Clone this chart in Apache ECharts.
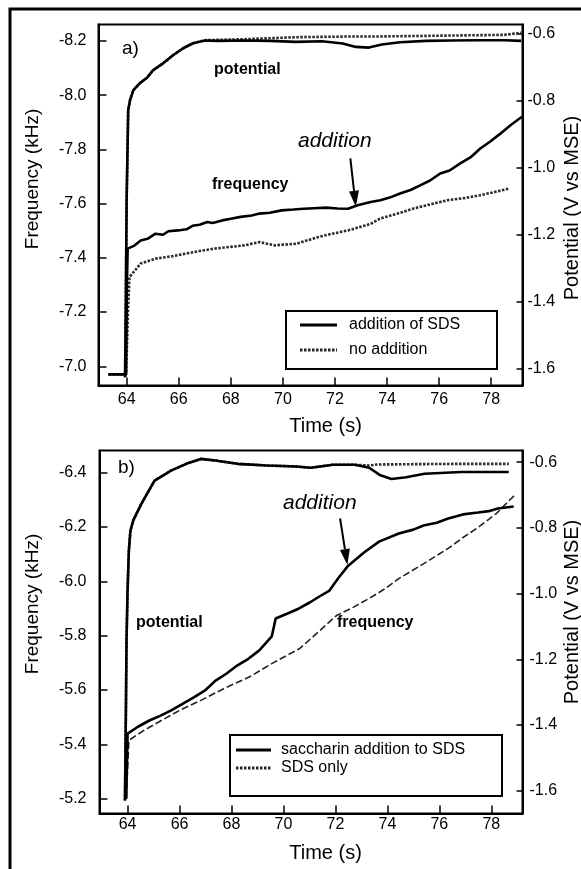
<!DOCTYPE html>
<html><head><meta charset="utf-8">
<script src="https://cdn.jsdelivr.net/npm/echarts@6/dist/echarts.min.js"></script>
<style>html,body{margin:0;padding:0;background:#fff}#c{width:581px;height:869px}</style>
</head><body><div id="c"></div>
<script>
// ---------- tick labels ----------
const timeTicks = [64, 66, 68, 70, 72, 74, 76, 78];
const freqTicksA = [-8.2, -8.0, -7.8, -7.6, -7.4, -7.2, -7.0];
const freqTicksB = [-6.4, -6.2, -6.0, -5.8, -5.6, -5.4, -5.2];
const potTicks = [-1.6, -1.4, -1.2, -1.0, -0.8, -0.6];

// ---------- panel a) ----------
const timeFreqAddA = [63.30, 63.98, 64.01, 64.04, 64.30, 64.54, 64.80, 65.11, 65.40, 65.60, 65.97, 66.30, 66.53, 66.80, 67.10, 67.30, 67.67, 68.00, 68.38, 68.80, 69.10, 69.50, 69.95, 70.40, 70.80, 71.20, 71.66, 72.10, 72.50, 72.87, 73.37, 73.74, 74.10, 74.50, 74.90, 75.27, 75.65, 76.04, 76.40, 76.81, 77.20, 77.58, 77.95, 78.35, 78.75, 79.18];
const freqAddA = [-6.97, -6.97, -7.30, -7.434, -7.445, -7.464, -7.470, -7.489, -7.485, -7.498, -7.501, -7.505, -7.518, -7.522, -7.532, -7.528, -7.538, -7.544, -7.551, -7.556, -7.563, -7.566, -7.575, -7.578, -7.581, -7.583, -7.585, -7.582, -7.581, -7.594, -7.606, -7.612, -7.622, -7.637, -7.650, -7.667, -7.685, -7.711, -7.722, -7.748, -7.770, -7.803, -7.828, -7.858, -7.890, -7.920];

const timeFreqNoA = [63.30, 63.98, 64.05, 64.11, 64.54, 65.11, 65.70, 66.24, 66.80, 67.39, 67.95, 68.53, 69.10, 69.67, 70.10, 70.52, 71.37, 71.90, 72.50, 73.37, 73.74, 74.40, 75.02, 75.70, 76.30, 76.95, 77.58, 78.10, 78.67];
const freqNoA = [-6.97, -6.97, -7.20, -7.329, -7.379, -7.397, -7.405, -7.415, -7.425, -7.434, -7.440, -7.446, -7.458, -7.446, -7.449, -7.452, -7.477, -7.489, -7.501, -7.525, -7.545, -7.563, -7.582, -7.598, -7.612, -7.620, -7.631, -7.642, -7.655];

const timePotAddA = [63.94, 63.97, 64.00, 64.06, 64.13, 64.26, 64.51, 64.77, 65.01, 65.40, 65.78, 66.17, 66.55, 67.01, 67.50, 68.50, 69.50, 70.50, 71.50, 72.30, 72.80, 73.30, 73.80, 74.50, 75.50, 76.50, 77.50, 78.50, 79.15];
const potAddA = [-1.626, -1.396, -1.098, -0.829, -0.799, -0.769, -0.748, -0.733, -0.710, -0.689, -0.665, -0.644, -0.629, -0.621, -0.622, -0.621, -0.622, -0.625, -0.623, -0.630, -0.640, -0.642, -0.633, -0.626, -0.622, -0.621, -0.620, -0.620, -0.622];

const timePotNoA = [63.94, 63.97, 64.00, 64.06, 64.13, 64.26, 64.51, 64.77, 65.01, 65.40, 65.78, 66.17, 66.55, 67.01, 67.50, 68.50, 69.50, 70.50, 71.50, 72.50, 73.50, 74.50, 75.50, 76.50, 77.50, 78.50, 79.15];
const potNoA = [-1.626, -1.396, -1.098, -0.829, -0.799, -0.769, -0.748, -0.733, -0.710, -0.689, -0.665, -0.644, -0.629, -0.620, -0.619, -0.617, -0.614, -0.611, -0.610, -0.609, -0.609, -0.608, -0.607, -0.606, -0.605, -0.604, -0.598];

// ---------- panel b) ----------
const timeFreqAddB = [63.95, 64.00, 64.40, 64.84, 65.25, 65.68, 66.10, 66.55, 67.00, 67.39, 67.80, 68.23, 68.65, 69.07, 69.55, 69.70, 70.25, 70.60, 71.01, 71.40, 71.77, 72.10, 72.46, 73.10, 73.68, 74.44, 75.00, 75.39, 75.90, 76.34, 76.91, 77.49, 77.90, 78.25, 78.86];
const freqAddB = [-5.20, -5.440, -5.465, -5.488, -5.505, -5.525, -5.548, -5.573, -5.600, -5.635, -5.660, -5.691, -5.715, -5.746, -5.797, -5.863, -5.885, -5.900, -5.922, -5.945, -5.966, -6.010, -6.054, -6.106, -6.146, -6.176, -6.190, -6.205, -6.215, -6.231, -6.246, -6.253, -6.258, -6.268, -6.275];

const timeFreqNoB = [63.95, 64.05, 64.60, 65.30, 66.00, 66.82, 67.70, 68.72, 69.60, 70.63, 71.30, 72.04, 72.70, 73.30, 73.90, 74.44, 75.40, 76.34, 76.90, 77.49, 78.20, 78.88];
const freqNoB = [-5.20, -5.415, -5.450, -5.488, -5.525, -5.562, -5.605, -5.650, -5.700, -5.753, -5.810, -5.874, -5.905, -5.937, -5.972, -6.010, -6.065, -6.121, -6.160, -6.198, -6.250, -6.315];

const timePotAddB = [63.90, 63.94, 63.96, 64.00, 64.05, 64.11, 64.22, 64.53, 65.04, 65.69, 66.26, 66.82, 67.38, 68.23, 69.36, 70.49, 71.05, 71.90, 72.75, 73.30, 73.73, 74.16, 74.72, 75.43, 76.84, 78.67];
const potAddB = [-1.630, -1.326, -1.143, -0.991, -0.869, -0.808, -0.777, -0.727, -0.656, -0.625, -0.605, -0.590, -0.595, -0.605, -0.610, -0.613, -0.617, -0.608, -0.608, -0.617, -0.640, -0.651, -0.646, -0.635, -0.630, -0.630];

const timePotNoB = [63.90, 63.94, 63.96, 64.00, 64.05, 64.11, 64.22, 64.53, 65.04, 65.69, 66.26, 66.82, 67.38, 68.23, 69.36, 70.49, 71.05, 71.90, 72.75, 73.30, 73.60, 75.00, 77.00, 78.67];
const potNoB = [-1.630, -1.326, -1.143, -0.991, -0.869, -0.808, -0.777, -0.727, -0.656, -0.625, -0.605, -0.590, -0.595, -0.605, -0.610, -0.613, -0.617, -0.608, -0.608, -0.610, -0.607, -0.606, -0.605, -0.605];

// addition markers (time, frequency) : arrow tail and tip
const arrowA = { tail: [72.59, -7.767], tip: [72.80, -7.588] };
const arrowB = { tail: [72.18, -6.231], tip: [72.46, -6.060] };

// ---------- chart ----------
const FONT = 'Liberation Sans, Arial, Helvetica, sans-serif';
const zip = (t, v) => t.map((x, i) => [x, v[i]]);
const chart = echarts.init(document.getElementById('c'), null, { renderer: 'canvas' });

const lbl = (extra) => Object.assign({ color: '#000', fontFamily: FONT, fontSize: 16 }, extra);
const fmt1 = v => v.toFixed(1);

function xAx(grid, margin) {
  return {
    type: 'value', gridIndex: grid, min: 62.92, max: 79.2,
    axisLine: { show: true, onZero: false, lineStyle: { color: '#000', width: 2 } },
    axisTick: { show: true, inside: true, length: 8, customValues: timeTicks, lineStyle: { color: '#000', width: 1.5 } },
    axisLabel: lbl({ customValues: timeTicks, margin: margin, formatter: v => String(v) }),
    splitLine: { show: false }
  };
}
function yFreq(grid, min, max, ticks, margin) {
  return {
    type: 'value', gridIndex: grid, position: 'left', inverse: true, min: min, max: max,
    axisLine: { show: true, onZero: false, lineStyle: { color: '#000', width: 2 } },
    axisTick: { show: true, inside: true, length: 8, customValues: ticks, lineStyle: { color: '#000', width: 1.5 } },
    axisLabel: lbl({ customValues: ticks, margin: margin, formatter: fmt1 }),
    splitLine: { show: false }
  };
}
function yPot(grid, min, max, margin) {
  return {
    type: 'value', gridIndex: grid, position: 'right', min: min, max: max,
    axisLine: { show: true, onZero: false, lineStyle: { color: '#000', width: 2 } },
    axisTick: { show: true, inside: true, length: 6, customValues: potTicks, lineStyle: { color: '#000', width: 1.5 } },
    axisLabel: lbl({ customValues: potTicks, margin: margin, formatter: fmt1 }),
    splitLine: { show: false }
  };
}
const solid = { color: '#000', width: 2.6, type: 'solid' };
const hatched = { color: '#2a2a2a', width: 2.6, type: [2.5, 1.5] };
const thinDash = { color: '#222', width: 1.6, type: [7, 3] };
function ser(name, x, y, data, style, z) {
  return { type: 'line', name: name, xAxisIndex: x, yAxisIndex: y, data: data, showSymbol: false, symbol: 'none',
    lineStyle: style, z: z, animation: false, silent: true };
}

chart.setOption({
  animation: false,
  backgroundColor: '#fff',
  grid: [
    { left: 98.5, top: 24.5, right: 58.5, height: 361, show: true, borderColor: '#000', borderWidth: 2, backgroundColor: 'transparent' },
    { left: 99.5, top: 450.5, right: 58.5, height: 363, show: true, borderColor: '#000', borderWidth: 2, backgroundColor: 'transparent' }
  ],
  xAxis: [xAx(0, 6), xAx(1, 3)],
  yAxis: [
    yFreq(0, -8.2605, -6.929, freqTicksA, 12),
    yPot(0, -1.6507, -0.5731, 5),
    yFreq(1, -6.481, -5.146, freqTicksB, 13),
    yPot(1, -1.6694, -0.5644, 7)
  ],
  series: [
    ser('no addition (potential)', 0, 1, zip(timePotNoA, potNoA), hatched, 2),
    ser('addition of SDS (potential)', 0, 1, zip(timePotAddA, potAddA), solid, 3),
    ser('no addition', 0, 0, zip(timeFreqNoA, freqNoA), hatched, 2),
    ser('addition of SDS', 0, 0, zip(timeFreqAddA, freqAddA), solid, 3),
    ser('SDS only (potential)', 1, 3, zip(timePotNoB, potNoB), hatched, 2),
    ser('saccharin addition to SDS (potential)', 1, 3, zip(timePotAddB, potAddB), solid, 3),
    ser('SDS only', 1, 2, zip(timeFreqNoB, freqNoB), thinDash, 2),
    ser('saccharin addition to SDS', 1, 2, zip(timeFreqAddB, freqAddB), solid, 3)
  ]
});

function txt(x, y, s, font, extra) {
  return Object.assign({ type: 'text', x: x, y: y, z: 10, silent: true,
    style: { text: s, font: font, fill: '#000', align: 'left', verticalAlign: 'middle' } }, extra || {});
}
function rtxt(x, y, s, font) {
  return { type: 'text', x: x, y: y, rotation: Math.PI / 2, z: 10, silent: true,
    style: { text: s, font: font, fill: '#000', align: 'center', verticalAlign: 'middle' } };
}
function arrowEls(a, xi, yi) {
  const p0 = chart.convertToPixel({ xAxisIndex: xi, yAxisIndex: yi }, a.tail);
  const p1 = chart.convertToPixel({ xAxisIndex: xi, yAxisIndex: yi }, a.tip);
  const dx = p1[0] - p0[0], dy = p1[1] - p0[1], L = Math.hypot(dx, dy);
  const ux = dx / L, uy = dy / L, hl = 16, hw = 5;
  const bx = p1[0] - ux * hl, by = p1[1] - uy * hl;
  return [
    { type: 'line', z: 10, silent: true, shape: { x1: p0[0], y1: p0[1], x2: bx, y2: by }, style: { stroke: '#000', lineWidth: 2 } },
    { type: 'polygon', z: 10, silent: true, shape: { points: [[p1[0], p1[1]], [bx - uy * hw, by + ux * hw], [bx + uy * hw, by - ux * hw]] }, style: { fill: '#000' } }
  ];
}
function legendBox(x, y, w, h, rows, textX, lineX1, lineX2) {
  const els = [{ type: 'rect', z: 10, silent: true, shape: { x: x, y: y, width: w, height: h }, style: { fill: '#fff', stroke: '#000', lineWidth: 2 } }];
  rows.forEach(r => {
    els.push({ type: 'line', z: 11, silent: true, shape: { x1: lineX1, y1: r.y, x2: lineX2, y2: r.y }, style: Object.assign({ stroke: '#000', lineWidth: 3 }, r.dash ? { lineDash: r.dash, stroke: '#222' } : {}) });
    els.push(txt(textX, r.y, r.label, '16px ' + FONT, { z: 11 }));
  });
  return els;
}

const B = 'bold 16px ' + FONT, I = 'italic 21px ' + FONT, T = '20px ' + FONT;
const graphics = [
  { type: 'rect', z: 20, silent: true, shape: { x: 10, y: 9, width: 640, height: 900 }, style: { fill: 'none', stroke: '#000', lineWidth: 3 } },
  txt(122, 49, 'a)', '19px ' + FONT),
  txt(214, 70, 'potential', B),
  txt(212, 185, 'frequency', B),
  txt(298, 141, 'addition', I),
  txt(118, 468, 'b)', '19px ' + FONT),
  txt(136, 623, 'potential', B),
  txt(337, 623, 'frequency', B),
  txt(283, 503, 'addition', I),
  rtxt(33, 179, 'Frequency (kHz)', '19px ' + FONT),
  rtxt(572, 208, 'Potential (V vs MSE)', T),
  txt(325.5, 426.5, 'Time (s)', T, { style: { text: 'Time (s)', font: T, fill: '#000', align: 'center', verticalAlign: 'middle' } }),
  rtxt(33, 604, 'Frequency (kHz)', '19px ' + FONT),
  rtxt(572, 612, 'Potential (V vs MSE)', T),
  txt(325.5, 853, 'Time (s)', T, { style: { text: 'Time (s)', font: T, fill: '#000', align: 'center', verticalAlign: 'middle' } })
]
  .concat(arrowEls(arrowA, 0, 0))
  .concat(arrowEls(arrowB, 1, 2))
  .concat(legendBox(286, 311, 211, 58, [{ y: 325, label: 'addition of SDS' }, { y: 350, label: 'no addition', dash: [2.5, 1.5] }], 349, 300, 337))
  .concat(legendBox(230, 735, 272, 61, [{ y: 750, label: 'saccharin addition to SDS' }, { y: 768, label: 'SDS only', dash: [2.5, 1.5] }], 281, 236, 271));

chart.setOption({ graphic: graphics });
</script></body></html>
